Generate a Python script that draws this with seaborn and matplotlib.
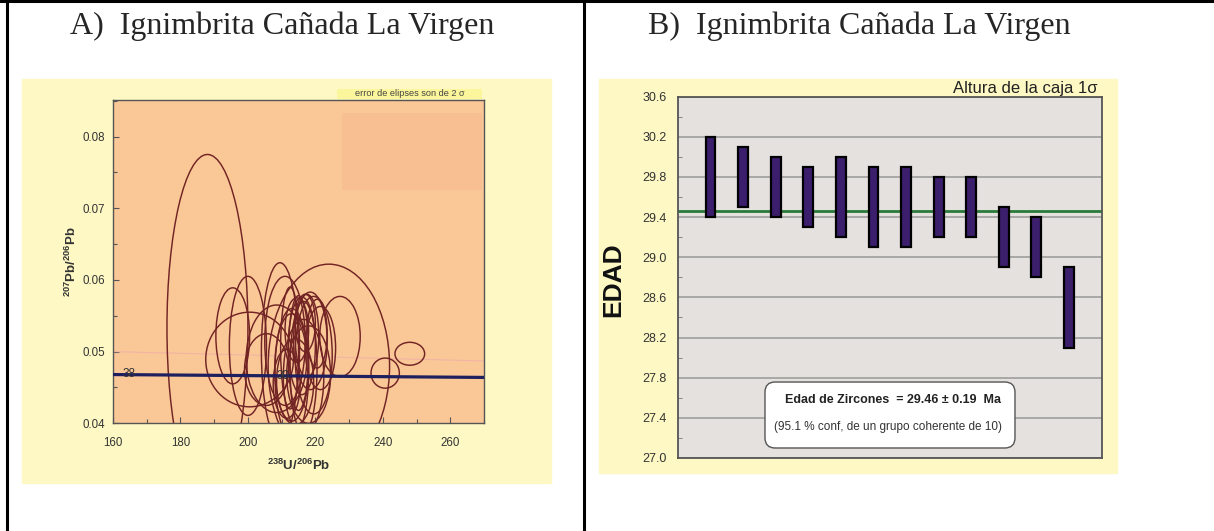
import matplotlib
matplotlib.use("Agg")
import matplotlib.pyplot as plt
from matplotlib.patches import Ellipse, Rectangle, FancyBboxPatch
from matplotlib.lines import Line2D
from matplotlib.ticker import MultipleLocator, FormatStrFormatter
import seaborn as sns
import pandas as pd

# ---------------- data ----------------
# Panel A: 2-sigma error ellipses (centre x, centre y, full width, full height)
ell_cx = [188.0, 224.0, 200.5, 200.0, 195.5, 209.5, 211.0, 208.5, 227.3, 240.7, 248.0,
          205.5, 213.0, 216.0, 217.5, 218.5, 215.0, 219.5, 214.0, 220.5, 212.5, 218.0,
          216.5, 211.5, 221.5, 214.5, 217.0, 213.0, 216.5]
ell_cy = [0.0533, 0.0480, 0.0489, 0.0508, 0.0522, 0.0500, 0.0515, 0.0490, 0.0521, 0.0470, 0.0497,
          0.0475, 0.0478, 0.0508, 0.0522, 0.0515, 0.0498, 0.0495, 0.0458, 0.0525, 0.0505, 0.0468,
          0.0478, 0.0455, 0.0505, 0.0530, 0.0540, 0.0470, 0.0465]
ell_w = [24.0, 36.0, 26.0, 11.0, 10.0, 11.0, 12.0, 18.0, 12.0, 8.4, 8.8,
         13.0, 10.0, 8.0, 7.0, 10.0, 6.0, 11.0, 11.0, 6.0, 5.6, 13.0,
         8.0, 8.0, 9.0, 7.0, 6.0, 10.0, 12.0]
ell_h = [0.0484, 0.0284, 0.0132, 0.0194, 0.0134, 0.0248, 0.0180, 0.0150, 0.0112, 0.0042, 0.0032,
         0.0100, 0.0150, 0.0136, 0.0116, 0.0136, 0.0160, 0.0164, 0.0120, 0.0096, 0.0170, 0.0136,
         0.0184, 0.0096, 0.0116, 0.0090, 0.0080, 0.0180, 0.0160]

concordia_x = [160, 270]
concordia_y = [0.0468, 0.0464]
faint_x = [160, 270]
faint_y = [0.0500, 0.0487]
age_label_txt = ["38", "30"]
age_label_x = [164.9, 210.3]
age_label_y = [0.0469, 0.0466]

# Panel B: 1-sigma age boxes
grain = list(range(1, 13))
age_lo = [29.4, 29.5, 29.4, 29.3, 29.2, 29.1, 29.1, 29.2, 29.2, 28.9, 28.8, 28.1]
age_hi = [30.2, 30.1, 30.0, 29.9, 30.0, 29.9, 29.9, 29.8, 29.8, 29.5, 29.4, 28.9]
mean_age = 29.46
yticks_B = [27.0, 27.4, 27.8, 28.2, 28.6, 29.0, 29.4, 29.8, 30.2, 30.6]
yminor_B = [27.2, 27.6, 28.0, 28.4, 28.8, 29.2, 29.6, 30.0, 30.4]

# ---------------- style ----------------
sns.set_style("white")
plt.rcParams['font.family'] = ['Liberation Sans', 'DejaVu Sans']
plt.rcParams['mathtext.fontset'] = 'custom'
plt.rcParams['mathtext.rm'] = 'Liberation Sans'
plt.rcParams['mathtext.bf'] = 'Liberation Sans:bold'

W, H = 1214, 531
def fx(x):
    return x / W
def fy(y):
    return 1 - y / H

fig = plt.figure(figsize=(W / 100, H / 100), dpi=100)
fig.patch.set_facecolor('white')

# table borders
fig.add_artist(Line2D([0, 1], [fy(1.2), fy(1.2)], transform=fig.transFigure, color='black', lw=2.2))
fig.add_artist(Line2D([fx(6.5), fx(6.5)], [0, 1], transform=fig.transFigure, color='black', lw=2.2))
fig.add_artist(Line2D([fx(583.5), fx(583.5)], [0, 1], transform=fig.transFigure, color='black', lw=2.2))

# yellow panels
yellow = '#fdf8c4'
fig.add_artist(Rectangle((fx(22), fy(483)), 529 / W, 404 / H, transform=fig.transFigure,
                         color=yellow, zorder=0))
fig.add_artist(Rectangle((fx(599), fy(473)), 518 / W, 394 / H, transform=fig.transFigure,
                         color=yellow, zorder=0))

# titles
fig.text(fx(282), fy(26), 'A)  Ignimbrita Cañada La Virgen', family='Liberation Serif',
         fontsize=23, ha='center', va='center')
fig.text(fx(859), fy(26), 'B)  Ignimbrita Cañada La Virgen', family='Liberation Serif',
         fontsize=23, ha='center', va='center')

# ---------------- Panel A ----------------
axA = fig.add_axes([fx(113), fy(423.3), 371 / W, 323.3 / H])
axA.set_facecolor('#fac797')
axA.set_xlim(160, 270)
axA.set_ylim(0.04, 0.0851)

axA.add_patch(Rectangle((227.8, 0.0725), 41.5, 0.0108, color='#f8bf92', zorder=0.5, lw=0))

sns.lineplot(x=faint_x, y=faint_y, ax=axA, color='#f2b4a4', lw=0.8, zorder=1)

for cx, cy, w, h in zip(ell_cx, ell_cy, ell_w, ell_h):
    axA.add_patch(Ellipse((cx, cy), w, h, fill=False, edgecolor='#722424', lw=1.05, zorder=2))

sns.lineplot(x=concordia_x, y=concordia_y, ax=axA, color='#1d1f5e', lw=2.3, zorder=3)
for t, x, y in zip(age_label_txt, age_label_x, age_label_y):
    axA.text(x, y, t, fontsize=8.5, color='#333333', ha='center', va='center', zorder=4)

axA.xaxis.set_major_locator(MultipleLocator(20))
axA.xaxis.set_minor_locator(MultipleLocator(10))
axA.yaxis.set_major_locator(MultipleLocator(0.01))
axA.yaxis.set_minor_locator(MultipleLocator(0.005))
axA.yaxis.set_major_formatter(FormatStrFormatter('%.2f'))
axA.tick_params(which='both', direction='in', colors='#555555', labelcolor='#333333',
                labelsize=8.3, bottom=True, left=True)
axA.tick_params(which='major', length=4, width=0.8)
axA.tick_params(which='minor', length=3, width=0.8)
axA.tick_params(axis='x', which='major', pad=10)
axA.tick_params(axis='y', which='major', pad=6)
for s in axA.spines.values():
    s.set_color('#555555')
    s.set_linewidth(1.0)

axA.set_xlabel(r'$^{\mathbf{238}}$U/$^{\mathbf{206}}$Pb', fontsize=9.5, fontweight='bold',
               color='#333333', labelpad=6)
axA.set_ylabel(r'$^{\mathbf{207}}$Pb/$^{\mathbf{206}}$Pb', fontsize=9.5, fontweight='bold',
               color='#333333', labelpad=2)

axA.add_patch(Rectangle((0.603, 1.003), 0.391, 0.031, transform=axA.transAxes,
                        color='#fbf59c', clip_on=False, lw=0, zorder=5))
axA.text(0.80, 1.019, 'error de elipses son de 2 σ', transform=axA.transAxes,
         fontsize=6.6, color='#444444', ha='center', va='center', zorder=6)

# ---------------- Panel B ----------------
axB = fig.add_axes([fx(678), fy(458), 423.5 / W, 361.3 / H])
axB.set_facecolor('#e5e1de')
axB.set_xlim(0, 13)
axB.set_ylim(27.0, 30.6)

dfB = pd.DataFrame({'grain': grain, 'lo': age_lo, 'hi': age_hi})
dfB['height'] = dfB['hi'] - dfB['lo']
axB.bar(dfB['grain'], dfB['height'], bottom=dfB['lo'], width=0.3, color='#3b1f6d',
        edgecolor='black', lw=1.6, zorder=3)
axB.axhline(mean_age, color='#2a7a3a', lw=2.0, zorder=2)

axB.set_yticks(yticks_B)
axB.set_yticks(yminor_B, minor=True)
axB.yaxis.set_major_formatter(FormatStrFormatter('%.1f'))
axB.yaxis.grid(True, which='major', color='#9e9e9e', lw=1.2, zorder=1)
axB.set_axisbelow(True)
axB.set_xticks([])
axB.tick_params(axis='y', which='major', length=0, labelsize=9, labelcolor='#333333', pad=8)
axB.tick_params(axis='y', which='minor', direction='in', length=3, color='#777777', left=True)
for s in axB.spines.values():
    s.set_color('#555555')
    s.set_linewidth(1.3)

fig.text(fx(613), fy(280), 'EDAD', rotation=90, fontsize=19, fontweight='bold',
         ha='center', va='center', color='#111111')
fig.text(fx(1098), fy(89), 'Altura de la caja 1σ', ha='right', va='center',
         fontsize=12, color='#222222')

box = FancyBboxPatch((0.2054, 0.0277), 0.5903, 0.1826, transform=axB.transAxes,
                     boxstyle='round,pad=0,rounding_size=0.024', mutation_aspect=423.5 / 361.3,
                     facecolor='white', edgecolor='#555555', lw=1.0, zorder=5)
axB.add_patch(box)
axB.text(0.5065, 0.1605, 'Edad de Zircones  = 29.46 ± 0.19  Ma', transform=axB.transAxes,
         fontsize=9, fontweight='bold', ha='center', va='center', color='#222222', zorder=6)
axB.text(0.497, 0.0858, '(95.1 % conf, de un grupo coherente de 10)', transform=axB.transAxes,
         fontsize=8.5, ha='center', va='center', color='#333333', zorder=6)

fig.savefig('out.png', dpi=100)
